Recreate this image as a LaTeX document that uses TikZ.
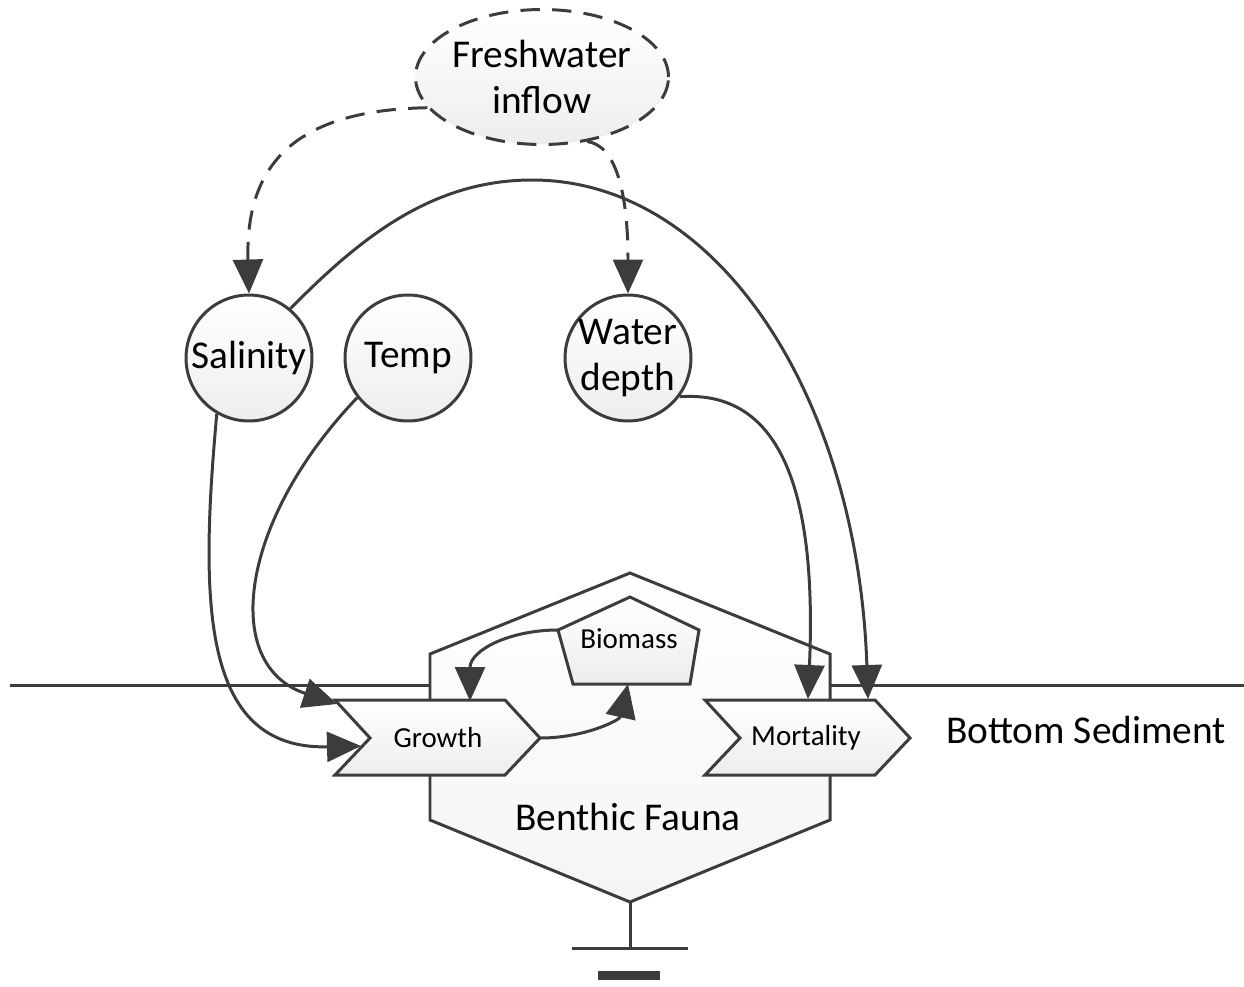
\documentclass[tikz,border=0pt]{standalone}
\usepackage{fontspec}
\setmainfont{Carlito}
\usetikzlibrary{arrows.meta,shapes.geometric}
\definecolor{ln}{HTML}{3C3C3C}
\begin{document}
\begin{tikzpicture}[x=0.02cm,y=-0.02cm,
  lnw/.style={draw=ln, line width=1.7pt},
  gshade/.style={top color=white, bottom color=gray!14},
  bigtxt/.style={font=\fontsize{22.4}{26}\selectfont, text=black},
  smalltxt/.style={font=\fontsize{16.5}{20}\selectfont, text=black},
  var/.style={circle, lnw, gshade, minimum size=2.52cm, inner sep=0pt, bigtxt, align=center},
  conn/.style={lnw, -{Triangle[length=0.68cm,width=0.6cm]}},
  dconn/.style={conn, dash pattern=on 11pt off 7pt},
]
\useasboundingbox (0,0) rectangle (1244,987);

% sediment line
\coordinate (lineL) at (10,685);
\coordinate (lineR) at (1244,685);
\draw[lnw] (lineL) -- (lineR);

% benthic fauna hexagon
\coordinate (hexB) at (630,902);
\draw[lnw, top color=white, bottom color=gray!8] (630,573) -- (830,654) -- (830,820) -- (hexB) -- (430,820) -- (430,654) -- cycle;
\node[bigtxt] (fauna) at (628,817) {Benthic Fauna};

% ground symbol
\coordinate (gnd) at (630,948);
\draw[lnw] (hexB) -- (gnd);
\draw[lnw] (572,948) -- (688,948);
\fill[ln] (598,971) rectangle (660,980);

% biomass pentagon
\coordinate (bioL) at (558,630);
\coordinate (bioB) at (628,684);
\draw[lnw, gshade] (630,597) -- (699,630) -- (690,684) -- (573,684) -- (bioL) -- cycle;
\node[smalltxt] (bio) at (629,639) {Biomass};

% chevrons
\draw[lnw, gshade] (335,700) -- (505,700) -- (540,738) -- (505,775) -- (335,775) -- (370,738) -- cycle;
\node[smalltxt] (grow) at (438,738) {Growth};
\coordinate (growTip) at (540,738);
\coordinate (growL) at (361,746);
\coordinate (growTL) at (337,704);
\coordinate (growT) at (470,701);

\draw[lnw, gshade] (705,700) -- (875,700) -- (910,738) -- (875,775) -- (705,775) -- (740,738) -- cycle;
\node[smalltxt] (mort) at (806,738) {Mortality};
\coordinate (mortT) at (808,699);
\coordinate (mortR) at (868,699);

\node[bigtxt] (sed) at (1086,730) {Bottom Sediment};

% drivers
\node[ellipse, lnw, gshade, dash pattern=on 11pt off 7pt, minimum width=4.4cm, minimum height=2.7cm, inner sep=0pt, bigtxt, align=center] (fw) at (542,77) {Freshwater\\inflow};
\node[var] (sal) at (249,358) {Salinity};
\node[var] (temp) at (408,358) {Temp};
\node[var] (wd) at (628,358) {Water\\depth};

% connectors
\coordinate (peak) at (532,180);
\draw[dconn] (fw.195) .. controls (300,110) and (245,160) .. (sal.north);
\draw[dconn] (fw.-55) .. controls (615,145) and (628,190) .. (wd.north);
\draw[conn] (sal.50) .. controls (360,238) and (432,180) .. (peak)
  .. controls (720,180) and (858,400) .. (mortR);
\draw[conn] (sal.240) .. controls (200,600) and (200,750) .. (growL);
\draw[conn] (temp.218) .. controls (240,520) and (220,665) .. (growTL);
\draw[conn] (wd.-37) .. controls (770,390) and (818,470) .. (mortT);
\draw[conn] (bioL) .. controls (510,630) and (470,650) .. (growT);
\draw[conn] (growTip) .. controls (585,738) and (620,720) .. (bioB);
\end{tikzpicture}
\end{document}
